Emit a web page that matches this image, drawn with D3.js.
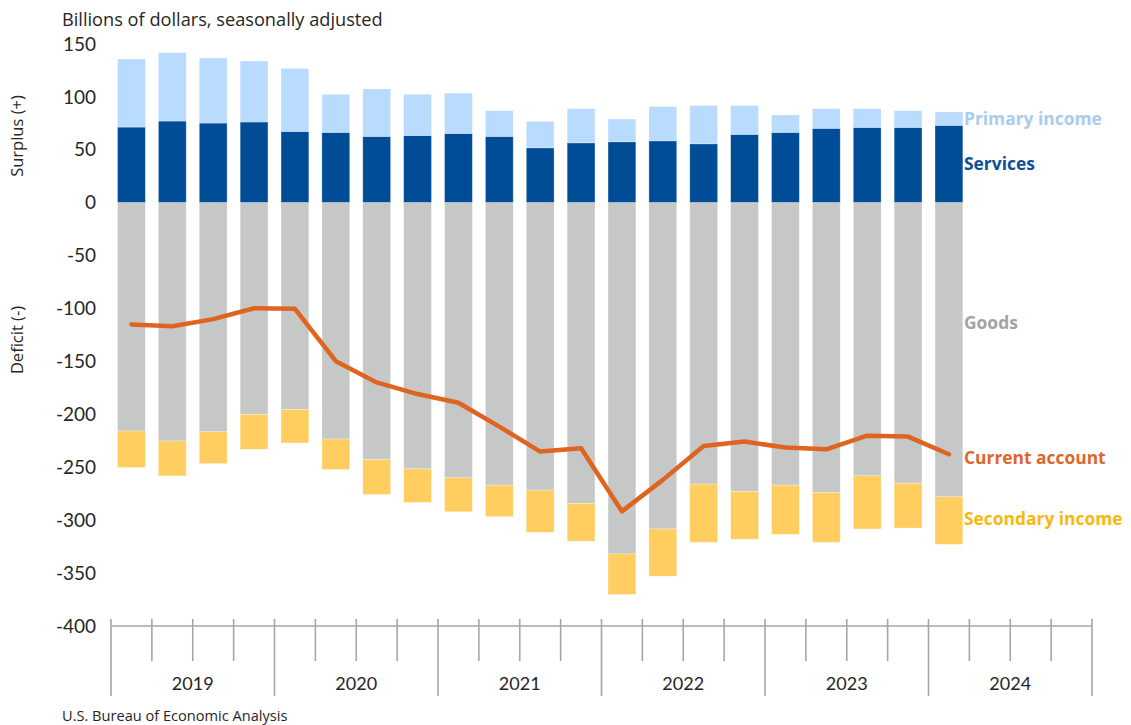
<!DOCTYPE html>
<html>
<head>
<meta charset="utf-8">
<script src="https://cdn.jsdelivr.net/npm/d3@7"></script>
<style>
  body { margin: 0; background: #fff; }
  svg { font-family: "Open Sans", Lato, sans-serif; }
</style>
</head>
<body>
<div id="chart"></div>
<script>
// Quarterly data, billions of dollars, 2019 Q1 - 2024 Q1
const years = ["2019", "2020", "2021", "2022", "2023", "2024"];
const quarters = ["2019Q1", "2019Q2", "2019Q3", "2019Q4", "2020Q1", "2020Q2", "2020Q3", "2020Q4",
	"2021Q1", "2021Q2", "2021Q3", "2021Q4", "2022Q1", "2022Q2", "2022Q3", "2022Q4",
	"2023Q1", "2023Q2", "2023Q3", "2023Q4", "2024Q1"];
const goods = [-215.7, -225.2, -216.4, -200.0, -195.3, -223.3, -242.7, -251.5, -260.0, -266.9, -271.6,
	-284.1, -331.9, -308.3, -265.9, -272.8, -266.9, -273.8, -258.1, -265.0, -277.9];
const services = [71.5, 77.2, 75.3, 76.3, 67.4, 66.5, 62.7, 63.6, 65.5, 62.7, 51.9,
	56.6, 57.6, 58.5, 55.7, 64.6, 66.5, 70.3, 71.2, 71.2, 73.1];
const primaryIncome = [64.3, 64.6, 61.4, 57.6, 59.5, 36.0, 44.9, 38.9, 38.0, 24.3, 25.0,
	32.3, 21.5, 32.3, 36.1, 27.2, 16.4, 18.6, 17.7, 15.8, 12.7];
const secondaryIncome = [-34.5, -32.9, -30.1, -33.0, -31.7, -28.8, -33.0, -31.7, -32.0, -29.8, -39.9,
	-35.8, -38.3, -44.6, -55.0, -45.2, -46.4, -47.1, -50.2, -42.4, -44.9];
const currentAccount = [-115.0, -116.7, -110.0, -99.7, -100.3, -149.7, -169.8, -180.8, -189.0, -211.6, -235.2,
	-232.0, -291.7, -261.9, -229.8, -225.7, -231.4, -233.0, -220.1, -221.0, -237.7];
const yTicks = [150, 100, 50, 0, -50, -100, -150, -200, -250, -300, -350, -400];

const width = 1131;
const height = 725;

const colors = {
	primary: "#b8dbfe",
	services: "#004c97",
	goods: "#c6c7c7",
	secondary: "#ffcd60",
	line: "#de6420"
};

// All axis slots: 6 years x 4 quarters (2024 Q2-Q4 stay empty)
const slots = years.flatMap(y => ["Q1", "Q2", "Q3", "Q4"].map(q => y + q));

const x = d3.scaleBand()
	.domain(slots)
	.range([111, 1092])
	.paddingInner(0.32)
	.paddingOuter(0.16);

const y = d3.scaleLinear()
	.domain([-400, 150])
	.range([626, 44]);

const svg = d3.select("#chart")
	.append("svg")
	.attr("width", width)
	.attr("height", height);

// Build stacked segments
const rows = quarters.map((q, i) => ({
	q,
	goods: goods[i],
	services: services[i],
	primary: primaryIncome[i],
	secondary: secondaryIncome[i],
	ca: currentAccount[i]
}));

const segments = [];
rows.forEach(d => {
	segments.push({ q: d.q, y0: 0, y1: d.services, fill: colors.services });
	segments.push({ q: d.q, y0: d.services, y1: d.services + d.primary, fill: colors.primary });
	segments.push({ q: d.q, y0: 0, y1: d.goods, fill: colors.goods });
	segments.push({ q: d.q, y0: d.goods, y1: d.goods + d.secondary, fill: colors.secondary });
});

svg.append("g")
	.selectAll("rect")
	.data(segments)
	.enter()
	.append("rect")
	.attr("x", d => x(d.q))
	.attr("width", x.bandwidth())
	.attr("y", d => y(Math.max(d.y0, d.y1)))
	.attr("height", d => Math.abs(y(d.y0) - y(d.y1)))
	.attr("fill", d => d.fill)
	.attr("stroke", "#ffffff")
	.attr("stroke-opacity", 0.35)
	.attr("stroke-width", 0.8);

// Current account line
const line = d3.line()
	.x(d => x(d.q) + x.bandwidth() / 2)
	.y(d => y(d.ca));

svg.append("path")
	.datum(rows)
	.attr("d", line)
	.attr("fill", "none")
	.attr("stroke", colors.line)
	.attr("stroke-width", 4.5)
	.attr("stroke-linejoin", "round")
	.attr("stroke-linecap", "round");

// Y axis labels
const yAxis = d3.axisLeft(y)
	.tickValues(yTicks)
	.tickSize(0)
	.tickPadding(0)
	.tickFormat(d => String(d));

const yg = svg.append("g")
	.attr("transform", "translate(96,0)")
	.call(yAxis);
yg.select(".domain").remove();
yg.selectAll("text")
	.attr("font-family", "Lato, sans-serif")
	.attr("font-size", 19)
	.attr("fill", "#262626");

svg.append("text")
	.attr("transform", "translate(23,136) rotate(-90)")
	.attr("text-anchor", "middle")
	.attr("font-size", 16.5)
	.attr("fill", "#262626")
	.text("Surplus (+)");

svg.append("text")
	.attr("transform", "translate(23,340) rotate(-90)")
	.attr("text-anchor", "middle")
	.attr("font-size", 16.5)
	.attr("fill", "#262626")
	.text("Deficit (-)");

svg.append("text")
	.attr("x", 62)
	.attr("y", 26)
	.attr("font-size", 18.2)
	.attr("fill", "#262626")
	.text("Billions of dollars, seasonally adjusted");

// X axis: line at -400 with quarter and year ticks
const axisY = y(-400);
const step = x.step();
const x0 = x.range()[0];
const axisG = svg.append("g")
	.attr("stroke", "#a6a6a6")
	.attr("stroke-width", 1.6);

axisG.append("line")
	.attr("x1", x0)
	.attr("x2", x.range()[1])
	.attr("y1", axisY)
	.attr("y2", axisY);

d3.range(slots.length + 1).forEach(i => {
	const major = i % 4 === 0;
	axisG.append("line")
		.attr("x1", x0 + i * step)
		.attr("x2", x0 + i * step)
		.attr("y1", axisY - 7)
		.attr("y2", major ? axisY + 70 : axisY + 35);
});

svg.append("g")
	.selectAll("text")
	.data(years)
	.enter()
	.append("text")
	.attr("x", d => x(d + "Q2") + (x(d + "Q3") - x(d + "Q2")) / 2 + x.bandwidth() / 2)
	.attr("y", 690)
	.attr("text-anchor", "middle")
	.attr("font-family", "Lato, sans-serif")
	.attr("font-size", 18)
	.attr("fill", "#262626")
	.text(d => d);

svg.append("text")
	.attr("x", 62)
	.attr("y", 721)
	.attr("font-size", 14.6)
	.attr("fill", "#262626")
	.text("U.S. Bureau of Economic Analysis");

// Series labels at right
const seriesLabels = [
	{ name: "Primary income", yv: 79, color: "#a9cbee" },
	{ name: "Services", yv: 37, color: "#0e4f97" },
	{ name: "Goods", yv: -114, color: "#a3a3a3" },
	{ name: "Current account", yv: -241, color: "#e0662a" },
	{ name: "Secondary income", yv: -299, color: "#f6b80e" }
];

svg.append("g")
	.selectAll("text")
	.data(seriesLabels)
	.enter()
	.append("text")
	.attr("x", 964)
	.attr("y", d => y(d.yv))
	.attr("dy", "0.35em")
	.attr("font-size", 17.4)
	.attr("font-weight", "bold")
	.attr("fill", d => d.color)
	.text(d => d.name);
</script>
</body>
</html>
